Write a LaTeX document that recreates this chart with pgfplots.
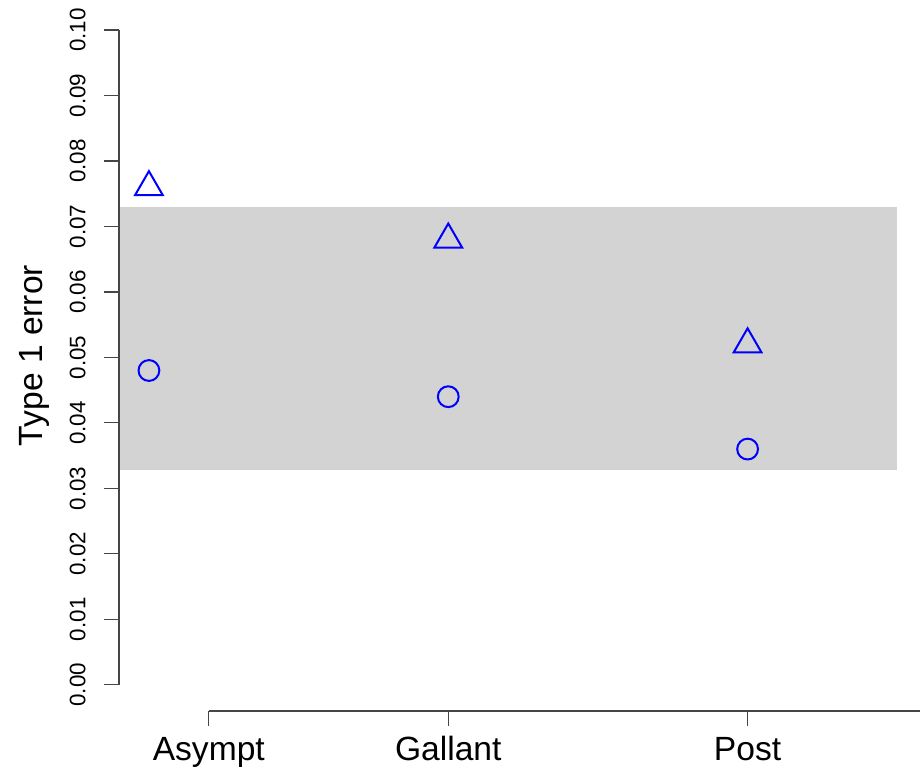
\documentclass[border=0pt]{standalone}
\usepackage{fontspec}
\setmainfont{Liberation Sans}
\usepackage{pgfplots}
\pgfplotsset{compat=1.18}
\definecolor{bandgray}{RGB}{211,211,211}
\definecolor{axgray}{RGB}{70,70,70}
\begin{document}
\begin{tikzpicture}
\begin{axis}[
  scale only axis,
  width=400.5pt, height=355.5pt,
  xmin=0.9, xmax=3.576,
  ymin=-0.004, ymax=0.10458,
  clip=false,
  axis line style={draw=none},
  xtick={1.2,2,3},
  xticklabels={Asympt,Gallant,Post},
  ytick={0,0.01,0.02,0.03,0.04,0.05,0.06,0.07,0.08,0.09,0.10},
  yticklabels={0.00,0.01,0.02,0.03,0.04,0.05,0.06,0.07,0.08,0.09,0.10},
  xtick pos=bottom, ytick pos=left,
  tick align=outside,
  major tick length=7.5pt,
  tick style={draw=axgray, line width=0.6pt},
  /pgf/number format/assume math mode=true,
  yticklabel style={rotate=90, anchor=south, inner sep=0pt, yshift=9pt, font=\fontsize{11.2}{13}\selectfont},
  xticklabel style={anchor=base, inner sep=0pt, yshift=-17pt, font=\fontsize{16.8}{20}\selectfont},
  ylabel={Type 1 error},
  every axis y label/.style={at={(axis description cs:-0.0961,0.5)}, rotate=90, anchor=base, inner sep=0pt, font=\fontsize{16.8}{20}\selectfont},
]
\addplot[fill=bandgray, draw=none] coordinates {(0.9,0.0328) (3.5,0.0328) (3.5,0.0729) (0.9,0.0729)} -- cycle;
\draw[axgray, line width=0.6pt] (axis cs:0.9,0) -- (axis cs:0.9,0.1);
\draw[axgray, line width=0.6pt] (axis cs:1.2,-0.004) -- (axis cs:3.576,-0.004);
\addplot[only marks, mark=o, mark size=5.2pt, blue, line width=1pt] coordinates {(1,0.048) (2,0.044) (3,0.036)};
\addplot[only marks, mark=triangle, mark size=8pt, blue, line width=1pt] coordinates {(1,0.076) (2,0.068) (3,0.052)};
\end{axis}
\pgfresetboundingbox
\path ([xshift=-59.5pt, yshift=-28pt]current axis.south west) rectangle (current axis.north east);
\end{tikzpicture}
\end{document}
